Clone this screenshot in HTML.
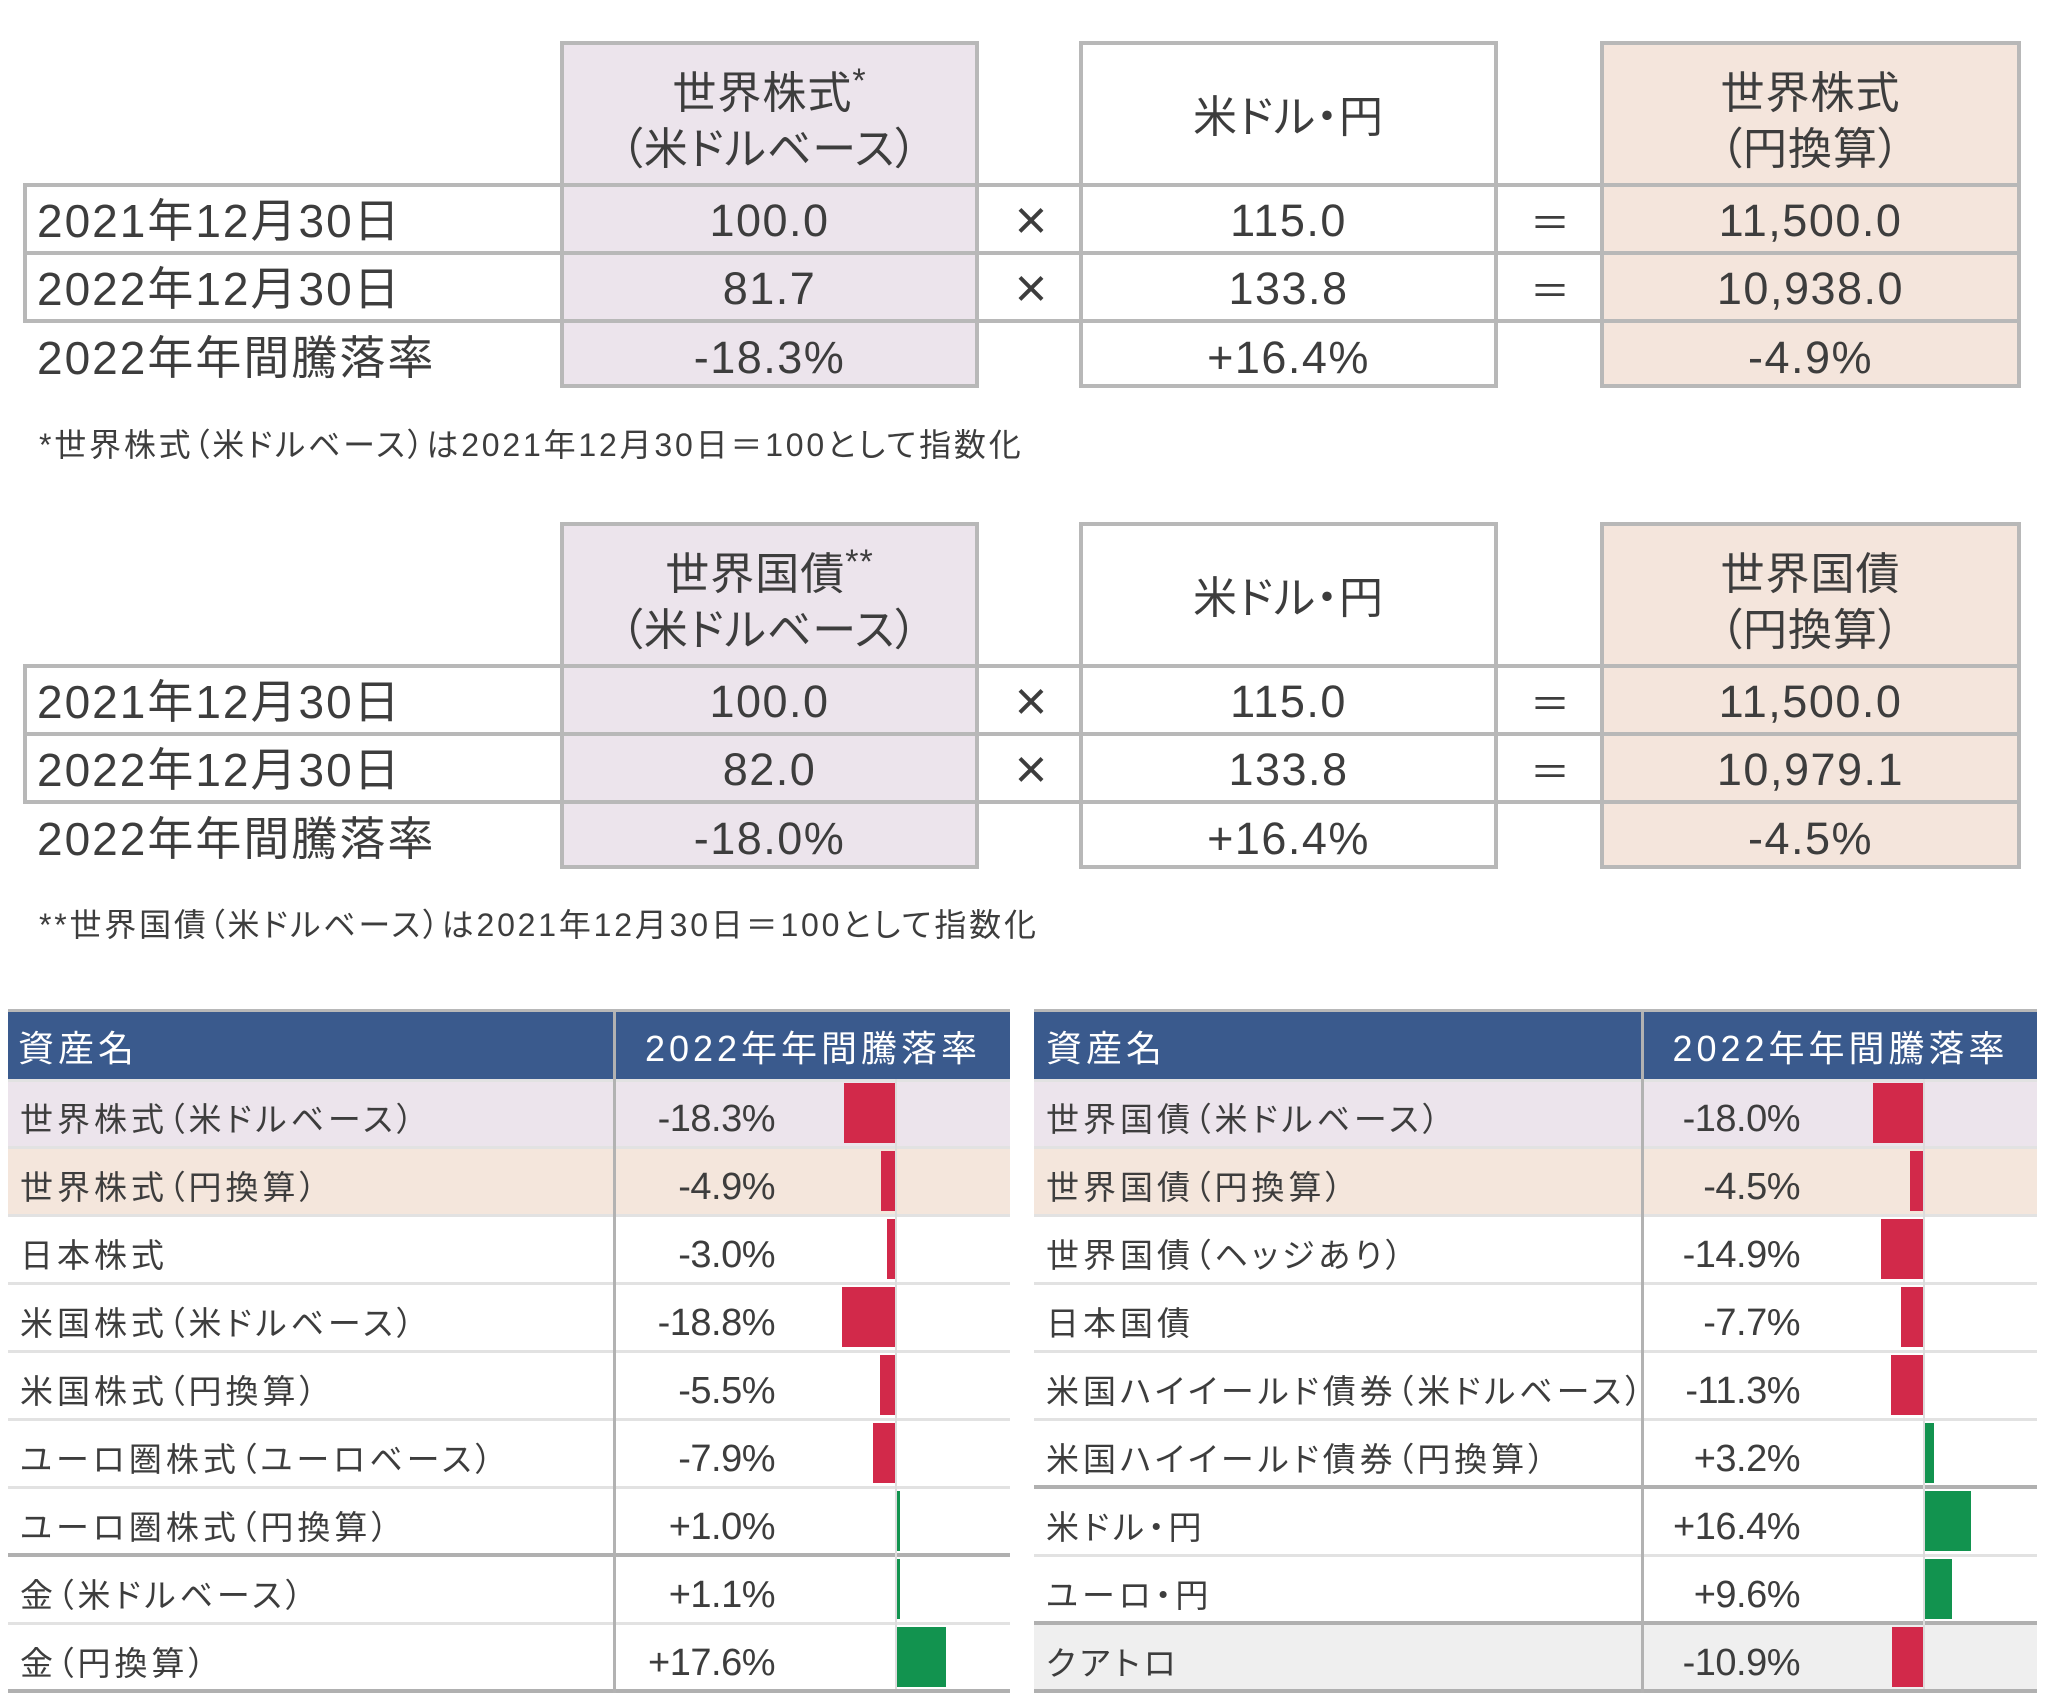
<!DOCTYPE html>
<html lang="ja">
<head>
<meta charset="utf-8">
<style>
html,body{margin:0;padding:0;background:#fff;}
body{width:2048px;height:1707px;position:relative;overflow:hidden;}
.t{position:absolute;white-space:nowrap;line-height:1;color:#3d3d3d;font-family:"Liberation Sans","Noto Sans CJK JP",sans-serif;font-feature-settings:"palt";}
.box{position:absolute;border:4px solid #b8b8b8;box-sizing:border-box;}
.hl{position:absolute;height:4px;background:#b8b8b8;left:23px;width:1998px;}
.vl{position:absolute;width:4px;background:#b8b8b8;left:23px;height:140px;}
.hd{font-size:44px;letter-spacing:1px;text-align:center;}
.val{font-size:45px;letter-spacing:1.5px;text-align:center;}
.lab{font-size:46px;letter-spacing:2px;left:37px;}
.op{font-size:56px;text-align:center;width:62px;}
.eq{font-size:40px;text-align:center;width:62px;font-family:"Noto Sans CJK JP",sans-serif;}
.sup{font-size:34px;position:relative;top:-16px;}
.fn{font-size:32px;letter-spacing:2.8px;left:39px;}
.r{position:absolute;}
.nm{font-size:33px;letter-spacing:4px;}
.pv{font-size:38px;letter-spacing:-0.5px;text-align:right;width:175px;}
.hdr{font-size:36px;letter-spacing:4px;color:#fff;}
.red{background:#d2294a;position:absolute;height:60px;}
.grn{background:#12934f;position:absolute;height:60px;}
.sep{position:absolute;height:3px;background:#e2e2e2;}
.thk{position:absolute;height:4px;background:#b0b0b0;}
</style>
</head>
<body>

<!-- ============ TOP TABLE 1 ============ -->
<div class="box" style="left:560px;top:41px;width:419px;height:347px;background:#ece4ec"></div>
<div class="box" style="left:1079px;top:41px;width:419px;height:347px;background:#fff"></div>
<div class="box" style="left:1600px;top:41px;width:421px;height:347px;background:#f4e5dc"></div>
<div class="hl" style="top:183px"></div>
<div class="hl" style="top:251px"></div>
<div class="hl" style="top:319px"></div>
<div class="vl" style="top:183px"></div>

<div class="t hd" style="left:560px;width:419px;top:72px">世界株式<span class="sup">*</span></div>
<div class="t hd" style="left:560px;width:419px;top:128px">（米ドルベース）</div>
<div class="t hd" style="left:1079px;width:419px;top:96px">米ドル・円</div>
<div class="t hd" style="left:1600px;width:421px;top:72px">世界株式</div>
<div class="t hd" style="left:1600px;width:421px;top:128px">（円換算）</div>

<div class="t lab" style="top:198px">2021年12月30日</div>
<div class="t lab" style="top:266px">2022年12月30日</div>
<div class="t lab" style="top:335px">2022年年間騰落率</div>

<div class="t val" style="left:560px;width:419px;top:198px">100.0</div>
<div class="t val" style="left:560px;width:419px;top:266px">81.7</div>
<div class="t val" style="left:560px;width:419px;top:335px">-18.3%</div>

<div class="t op" style="left:1000px;top:192px">×</div>
<div class="t op" style="left:1000px;top:260px">×</div>

<div class="t val" style="left:1079px;width:419px;top:198px">115.0</div>
<div class="t val" style="left:1079px;width:419px;top:266px">133.8</div>
<div class="t val" style="left:1079px;width:419px;top:335px">+16.4%</div>

<div class="t eq" style="left:1519px;top:200px">＝</div>
<div class="t eq" style="left:1519px;top:268px">＝</div>

<div class="t val" style="left:1600px;width:421px;top:198px">11,500.0</div>
<div class="t val" style="left:1600px;width:421px;top:266px">10,938.0</div>
<div class="t val" style="left:1600px;width:421px;top:335px">-4.9%</div>

<div class="t fn" style="top:429px">*世界株式（米ドルベース）は2021年12月30日＝100として指数化</div>

<!-- ============ TOP TABLE 2 ============ -->
<div class="box" style="left:560px;top:522px;width:419px;height:347px;background:#ece4ec"></div>
<div class="box" style="left:1079px;top:522px;width:419px;height:347px;background:#fff"></div>
<div class="box" style="left:1600px;top:522px;width:421px;height:347px;background:#f4e5dc"></div>
<div class="hl" style="top:664px"></div>
<div class="hl" style="top:732px"></div>
<div class="hl" style="top:800px"></div>
<div class="vl" style="top:664px"></div>

<div class="t hd" style="left:560px;width:419px;top:553px">世界国債<span class="sup">**</span></div>
<div class="t hd" style="left:560px;width:419px;top:609px">（米ドルベース）</div>
<div class="t hd" style="left:1079px;width:419px;top:577px">米ドル・円</div>
<div class="t hd" style="left:1600px;width:421px;top:553px">世界国債</div>
<div class="t hd" style="left:1600px;width:421px;top:609px">（円換算）</div>

<div class="t lab" style="top:679px">2021年12月30日</div>
<div class="t lab" style="top:747px">2022年12月30日</div>
<div class="t lab" style="top:816px">2022年年間騰落率</div>

<div class="t val" style="left:560px;width:419px;top:679px">100.0</div>
<div class="t val" style="left:560px;width:419px;top:747px">82.0</div>
<div class="t val" style="left:560px;width:419px;top:816px">-18.0%</div>

<div class="t op" style="left:1000px;top:673px">×</div>
<div class="t op" style="left:1000px;top:741px">×</div>

<div class="t val" style="left:1079px;width:419px;top:679px">115.0</div>
<div class="t val" style="left:1079px;width:419px;top:747px">133.8</div>
<div class="t val" style="left:1079px;width:419px;top:816px">+16.4%</div>

<div class="t eq" style="left:1519px;top:681px">＝</div>
<div class="t eq" style="left:1519px;top:749px">＝</div>

<div class="t val" style="left:1600px;width:421px;top:679px">11,500.0</div>
<div class="t val" style="left:1600px;width:421px;top:747px">10,979.1</div>
<div class="t val" style="left:1600px;width:421px;top:816px">-4.5%</div>

<div class="t fn" style="top:909px">**世界国債（米ドルベース）は2021年12月30日＝100として指数化</div>

<!-- ============ BOTTOM LEFT TABLE ============ -->
<div class="r" style="left:8px;top:1009px;width:1002px;height:3px;background:#b8b8b8"></div>
<div class="r" style="left:8px;top:1012px;width:1002px;height:67px;background:#3a5a8d"></div>
<div class="r" style="left:8px;top:1079px;width:1002px;height:68px;background:#ece4ec"></div>
<div class="r" style="left:8px;top:1147px;width:1002px;height:68px;background:#f4e6dc"></div>

<div class="sep" style="left:8px;width:1002px;top:1079px"></div>
<div class="sep" style="left:8px;width:1002px;top:1146px"></div>
<div class="sep" style="left:8px;width:1002px;top:1214px"></div>
<div class="sep" style="left:8px;width:1002px;top:1282px"></div>
<div class="sep" style="left:8px;width:1002px;top:1350px"></div>
<div class="sep" style="left:8px;width:1002px;top:1418px"></div>
<div class="sep" style="left:8px;width:1002px;top:1486px"></div>
<div class="thk" style="left:8px;width:1002px;top:1553px"></div>
<div class="sep" style="left:8px;width:1002px;top:1622px"></div>
<div class="thk" style="left:8px;width:1002px;top:1689px"></div>

<div class="r" style="left:613px;top:1012px;width:3px;height:681px;background:#b2b2b2"></div>
<div class="r" style="left:895px;top:1079px;width:2px;height:610px;background:#dcdcdc"></div>

<div class="t hdr" style="left:18px;top:1031px">資産名</div>
<div class="t hdr" style="left:616px;width:394px;text-align:center;top:1031px">2022年年間騰落率</div>

<div class="t nm" style="left:20px;top:1103px">世界株式（米ドルベース）</div>
<div class="t nm" style="left:20px;top:1171px">世界株式（円換算）</div>
<div class="t nm" style="left:20px;top:1239px">日本株式</div>
<div class="t nm" style="left:20px;top:1307px">米国株式（米ドルベース）</div>
<div class="t nm" style="left:20px;top:1375px">米国株式（円換算）</div>
<div class="t nm" style="left:20px;top:1443px">ユーロ圏株式（ユーロベース）</div>
<div class="t nm" style="left:20px;top:1511px">ユーロ圏株式（円換算）</div>
<div class="t nm" style="left:20px;top:1579px">金（米ドルベース）</div>
<div class="t nm" style="left:20px;top:1647px">金（円換算）</div>

<div class="t pv" style="left:600px;top:1100px">-18.3%</div>
<div class="t pv" style="left:600px;top:1168px">-4.9%</div>
<div class="t pv" style="left:600px;top:1236px">-3.0%</div>
<div class="t pv" style="left:600px;top:1304px">-18.8%</div>
<div class="t pv" style="left:600px;top:1372px">-5.5%</div>
<div class="t pv" style="left:600px;top:1440px">-7.9%</div>
<div class="t pv" style="left:600px;top:1508px">+1.0%</div>
<div class="t pv" style="left:600px;top:1576px">+1.1%</div>
<div class="t pv" style="left:600px;top:1644px">+17.6%</div>

<div class="red" style="left:844px;width:51px;top:1083px"></div>
<div class="red" style="left:881px;width:14px;top:1151px"></div>
<div class="red" style="left:887px;width:8px;top:1219px"></div>
<div class="red" style="left:842px;width:53px;top:1287px"></div>
<div class="red" style="left:880px;width:15px;top:1355px"></div>
<div class="red" style="left:873px;width:22px;top:1423px"></div>
<div class="grn" style="left:897px;width:3px;top:1491px"></div>
<div class="grn" style="left:897px;width:3px;top:1559px"></div>
<div class="grn" style="left:897px;width:49px;top:1627px"></div>

<!-- ============ BOTTOM RIGHT TABLE ============ -->
<div class="r" style="left:1034px;top:1009px;width:1003px;height:3px;background:#b8b8b8"></div>
<div class="r" style="left:1034px;top:1012px;width:1003px;height:67px;background:#3a5a8d"></div>
<div class="r" style="left:1034px;top:1079px;width:1003px;height:68px;background:#ece4ec"></div>
<div class="r" style="left:1034px;top:1147px;width:1003px;height:68px;background:#f4e6dc"></div>
<div class="r" style="left:1034px;top:1623px;width:1003px;height:68px;background:#efefef"></div>

<div class="sep" style="left:1034px;width:1003px;top:1079px"></div>
<div class="sep" style="left:1034px;width:1003px;top:1146px"></div>
<div class="sep" style="left:1034px;width:1003px;top:1214px"></div>
<div class="sep" style="left:1034px;width:1003px;top:1282px"></div>
<div class="sep" style="left:1034px;width:1003px;top:1350px"></div>
<div class="sep" style="left:1034px;width:1003px;top:1418px"></div>
<div class="thk" style="left:1034px;width:1003px;top:1485px"></div>
<div class="sep" style="left:1034px;width:1003px;top:1554px"></div>
<div class="thk" style="left:1034px;width:1003px;top:1621px"></div>
<div class="thk" style="left:1034px;width:1003px;top:1689px"></div>

<div class="r" style="left:1641px;top:1012px;width:3px;height:681px;background:#b2b2b2"></div>
<div class="r" style="left:1923px;top:1079px;width:2px;height:610px;background:#dcdcdc"></div>

<div class="t hdr" style="left:1046px;top:1031px">資産名</div>
<div class="t hdr" style="left:1644px;width:393px;text-align:center;top:1031px">2022年年間騰落率</div>

<div class="t nm" style="left:1046px;top:1103px">世界国債（米ドルベース）</div>
<div class="t nm" style="left:1046px;top:1171px">世界国債（円換算）</div>
<div class="t nm" style="left:1046px;top:1239px">世界国債（ヘッジあり）</div>
<div class="t nm" style="left:1046px;top:1307px">日本国債</div>
<div class="t nm" style="left:1046px;top:1375px">米国ハイイールド債券（米ドルベース）</div>
<div class="t nm" style="left:1046px;top:1443px">米国ハイイールド債券（円換算）</div>
<div class="t nm" style="left:1046px;top:1511px">米ドル・円</div>
<div class="t nm" style="left:1046px;top:1579px">ユーロ・円</div>
<div class="t nm" style="left:1046px;top:1647px">クアトロ</div>

<div class="t pv" style="left:1625px;top:1100px">-18.0%</div>
<div class="t pv" style="left:1625px;top:1168px">-4.5%</div>
<div class="t pv" style="left:1625px;top:1236px">-14.9%</div>
<div class="t pv" style="left:1625px;top:1304px">-7.7%</div>
<div class="t pv" style="left:1625px;top:1372px">-11.3%</div>
<div class="t pv" style="left:1625px;top:1440px">+3.2%</div>
<div class="t pv" style="left:1625px;top:1508px">+16.4%</div>
<div class="t pv" style="left:1625px;top:1576px">+9.6%</div>
<div class="t pv" style="left:1625px;top:1644px">-10.9%</div>

<div class="red" style="left:1873px;width:50px;top:1083px"></div>
<div class="red" style="left:1910px;width:13px;top:1151px"></div>
<div class="red" style="left:1881px;width:42px;top:1219px"></div>
<div class="red" style="left:1901px;width:22px;top:1287px"></div>
<div class="red" style="left:1891px;width:32px;top:1355px"></div>
<div class="grn" style="left:1925px;width:9px;top:1423px"></div>
<div class="grn" style="left:1925px;width:46px;top:1491px"></div>
<div class="grn" style="left:1925px;width:27px;top:1559px"></div>
<div class="red" style="left:1892px;width:31px;top:1627px"></div>

</body>
</html>
